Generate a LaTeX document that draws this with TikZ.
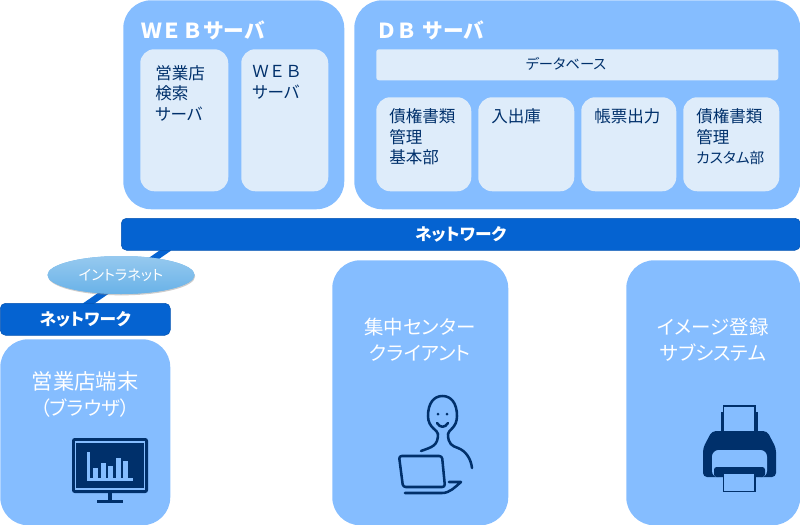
\documentclass[tikz,border=0pt]{standalone}
\usepackage{xcolor}
\usepackage{fontspec}
\setmainfont[RawFeature=+palt]{Noto Sans CJK JP}
\newfontfamily\widefont{Noto Sans CJK JP}
\usetikzlibrary{shapes.geometric, shadows, backgrounds}
\definecolor{paleBlue}{RGB}{133, 189, 255}
\definecolor{iceBlue}{RGB}{222, 236, 250}
\definecolor{netBlue}{RGB}{5, 99, 209}
\definecolor{inkBlue}{RGB}{0, 48, 107}
\definecolor{ovalBlue}{RGB}{105, 178, 232}
\tikzset{
    panel/.style={fill=paleBlue, rounded corners=28*0.75pt, minimum width=#1*0.75pt, anchor=north west, inner sep=0pt},
    tile/.style={fill=iceBlue, rounded corners=14*0.75pt, anchor=north west, inner sep=0pt},
    netbar/.style={fill=netBlue, draw=netBlue!85!black, line width=0.4pt, rounded corners=4pt, anchor=north west, inner sep=0pt, text=white, font=\fontsize{12.5}{14}\selectfont\bfseries},
    tiletext/.style={anchor=north west, inner sep=0pt, align=left, text=inkBlue, font=\fontsize{12.4}{15.6}\selectfont},
    headtext/.style={anchor=west, inner sep=0pt, text=white, font=\widefont\fontsize{15.5}{18}\selectfont\bfseries},
    hosttext/.style={inner sep=0pt, align=center, text=white, font=\fontsize{14.6}{19.5}\selectfont},
    icon/.style={draw=inkBlue, line width=1.9pt, line cap=round, line join=round}
}
\begin{document}
\begin{tikzpicture}[x=0.75pt, y=-0.75pt]
    \useasboundingbox (0,0) rectangle (800,525);

    % Server panels
    \node[panel=221, minimum height=209*0.75pt] (webPanel) at (123,0) {};
    \node[panel=446, minimum height=209*0.75pt] (dbPanel) at (354,0) {};
    \node[headtext] (webHead) at (141,30) {ＷＥＢサーバ};
    \node[headtext] (dbHead) at (376,30) {ＤＢ サーバ};

    % Tiles
    \node[tile, minimum width=88*0.75pt, minimum height=142*0.75pt] (shopTile) at (140,49) {};
    \node[tile, minimum width=87*0.75pt, minimum height=142*0.75pt] (webTile) at (241,49) {};
    \node[tile, rounded corners=2pt, minimum width=402*0.75pt, minimum height=31*0.75pt] (dataTile) at (376,49) {};
    \node[tile, minimum width=95*0.75pt, minimum height=94*0.75pt] (baseTile) at (376,97) {};
    \node[tile, minimum width=96*0.75pt, minimum height=94*0.75pt] (stockTile) at (478,97) {};
    \node[tile, minimum width=95*0.75pt, minimum height=94*0.75pt] (formTile) at (581,97) {};
    \node[tile, minimum width=96*0.75pt, minimum height=94*0.75pt] (customTile) at (683,97) {};
    \node[inner sep=0pt, text=inkBlue, font=\fontsize{10.7}{13}\selectfont] (dataText) at (566,64) {データベース};
    \node[tiletext] (shopText) at (155,65) {営業店\\検索\\サーバ};
    \node[tiletext] (webText) at (252,65) {{\widefont ＷＥＢ}\\サーバ};
    \node[tiletext] (baseText) at (389,108) {債権書類\\管理\\基本部};
    \node[tiletext] (stockText) at (491,108) {入出庫};
    \node[tiletext] (formText) at (594,108) {帳票出力};
    \node[tiletext] (customText) at (696,108) {債権書類\\管理\\{\fontsize{11}{15.6}\selectfont カスタム部}};

    % Networks
    \node[netbar, minimum width=679*0.75pt, minimum height=32*0.75pt] (mainNet) at (121,218) {ネットワーク};
    \node[netbar, minimum width=170*0.75pt, minimum height=32*0.75pt] (shopNet) at (0,303) {ネットワーク};
    \begin{scope}[on background layer]
        \coordinate (netTop) at (169,248);
        \coordinate (netLow) at (85,306);
        \draw[netBlue, line width=5pt] (netTop) -- (netLow);
    \end{scope}
    \node[ellipse, fill=ovalBlue, top color=ovalBlue!70!white, bottom color=ovalBlue, minimum width=147*0.75pt, minimum height=38*0.75pt, inner sep=0pt, text=white, font=\fontsize{10.7}{12}\selectfont, drop shadow={shadow xshift=0.5pt, shadow yshift=-1pt, opacity=0.4}] (intraNet) at (121,275) {イントラネット};

    % Clients
    \node[panel=170, minimum height=186*0.75pt] (shopPanel) at (0,339) {};
    \node[panel=176, minimum height=265*0.75pt] (centerPanel) at (332,260) {};
    \node[panel=174, minimum height=265*0.75pt] (imagePanel) at (626,260) {};
    \node[hosttext] (shopLabel) at (85,394) {{\fontsize{16}{19.5}\selectfont 営業店端末}\\（ブラウザ）};
    \node[hosttext] (centerLabel) at (420,340) {集中センター\\クライアント};
    \node[hosttext] (imageLabel) at (713,340) {イメージ登録\\サブシステム};

    % Monitor
    \fill[inkBlue, rounded corners=2pt] (72,438) rectangle (148,493);
    \draw[paleBlue, line width=1.1pt] (75.5,442) rectangle (144.5,489);
    \fill[inkBlue] (108,493) rectangle (112,501);
    \fill[inkBlue] (97,500) rectangle (123,503);
    \fill[paleBlue] (87,452) rectangle (89.5,481);
    \fill[paleBlue] (87,478) rectangle (133,481);
    \foreach \x/\y in {93/468, 100.5/463, 108/466, 115.5/458, 123/461} {
        \fill[paleBlue] (\x,\y) rectangle (\x+5,478);
    }

    % Person with laptop
    \draw[icon] (438,434) .. controls (438,430) and (428,428) .. (428,416)
        .. controls (428,403) and (434,396) .. (442.5,396)
        .. controls (451,396) and (457,403) .. (457,416)
        .. controls (457,428) and (448,430) .. (448,434)
        .. controls (448,444) and (452,446) .. (458,448)
        .. controls (466,451) and (471,459) .. (472,468);
    \draw[icon] (438,434) .. controls (438,446) and (432,447) .. (421,451);
    \fill[inkBlue] (438,414) circle (1.5) (447,414) circle (1.5);
    \draw[icon] (437,423) .. controls (440,428) and (445,428) .. (448,423);
    \draw[icon, rounded corners=2pt] (399,456) -- (442,456) -- (445,487) -- (403,487) -- cycle;
    \draw[icon] (405,493) -- (442,493) .. controls (450,493) and (455,487) .. (461,482) -- (449,482);

    % Printer
    \fill[inkBlue] (721,412) rectangle (758,434);
    \filldraw[fill=paleBlue, draw=inkBlue, line width=1pt] (723.5,406) rectangle (755,432);
    \fill[inkBlue, rounded corners=3pt] (712,431) -- (767,431) -- (776,448) -- (776,477) -- (703,477) -- (703,448) -- cycle;
    \fill[paleBlue, rounded corners=5pt] (712,477.5) -- (712,450) -- (767,450) -- (767,477.5) -- cycle;
    \fill[inkBlue, rounded corners=2pt] (714,477) -- (714,467) -- (765,467) -- (765,477) -- cycle;
    \filldraw[fill=paleBlue, draw=inkBlue, line width=1pt] (723.5,473.5) rectangle (755,491.5);
\end{tikzpicture}
\end{document}
